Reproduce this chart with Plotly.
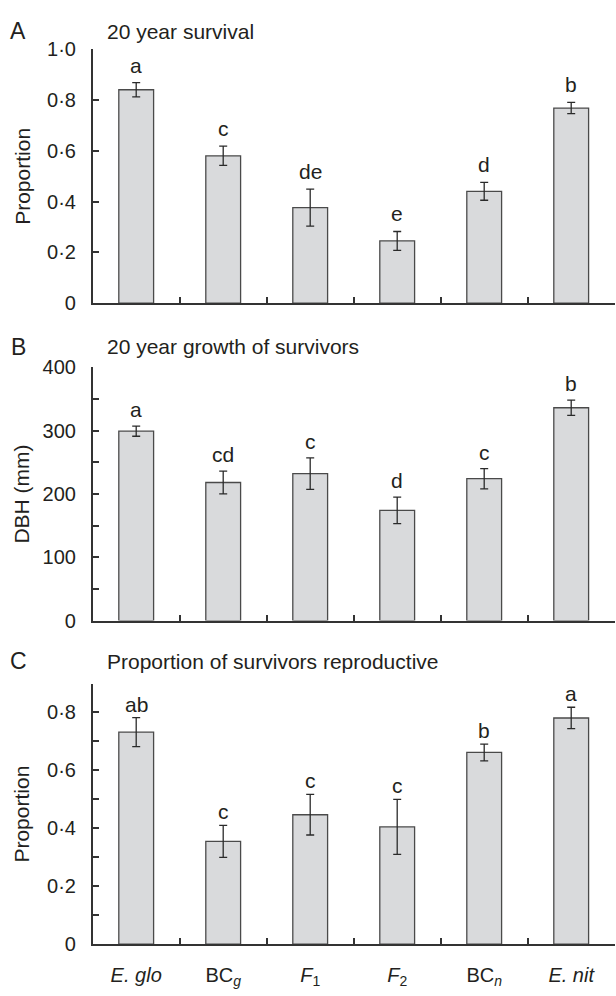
import plotly.graph_objects as go

# Hybrid classes (bar order along the x axis)
categories = [
    "<i>E. glo</i>",
    "BC<sub><i>g</i></sub>",
    "<i>F</i><sub>1</sub>",
    "<i>F</i><sub>2</sub>",
    "BC<sub><i>n</i></sub>",
    "<i>E. nit</i>",
]

# A: 20 year survival (proportion) with standard errors
survival = [0.84, 0.58, 0.376, 0.245, 0.44, 0.768]
survival_se = [0.028, 0.038, 0.073, 0.037, 0.035, 0.022]
survival_letters = ["a", "c", "de", "e", "d", "b"]

# B: 20 year growth of survivors, DBH (mm)
dbh = [299, 218, 232, 174, 224, 336]
dbh_se = [8, 18, 25, 21, 16, 12]
dbh_letters = ["a", "cd", "c", "d", "c", "b"]

# C: proportion of survivors reproductive
repro = [0.732, 0.355, 0.447, 0.405, 0.662, 0.781]
repro_se = [0.05, 0.055, 0.07, 0.095, 0.029, 0.037]
repro_letters = ["ab", "c", "c", "c", "b", "a"]

# Tick positions and labels (middle-dot decimals; blank = unlabelled tick)
prop_ticks_a = [0, 0.2, 0.4, 0.6, 0.8, 1.0]
prop_ticktext_a = ["0", "0·2", "0·4", "0·6", "0·8", "1·0"]
dbh_ticks = [0, 50, 100, 150, 200, 250, 300, 350, 400]
dbh_ticktext = ["0", " ", "100", " ", "200", " ", "300", " ", "400"]
prop_ticks_c = [0, 0.1, 0.2, 0.3, 0.4, 0.5, 0.6, 0.7, 0.8, 0.9]
prop_ticktext_c = ["0", " ", "0·2", " ", "0·4", " ", "0·6", " ", "0·8", " "]

FONT = "Liberation Sans, Arial, Helvetica, sans-serif"
TXT = "#231f20"
AXC = "#333333"
BAR_FILL = "#d9dadc"
BAR_LINE = "#4a4a4a"

W, H = 616, 996
x_dom = [92.7 / W, 614.7 / W]
# panel vertical extents in pixels (top, bottom)
panels = [
    dict(top=39.0, bottom=298.7, vals=survival, se=survival_se, letters=survival_letters,
         rng=[0, 1.0], tv=prop_ticks_a, tt=prop_ticktext_a,
         tag="A", title="20 year survival", ytitle="Proportion", lshift=4),
    dict(top=364.3, bottom=623.3, vals=dbh, se=dbh_se, letters=dbh_letters,
         rng=[0, 400], tv=dbh_ticks, tt=dbh_ticktext,
         tag="B", title="20 year growth of survivors", ytitle="DBH (mm)", lshift=3),
    dict(top=687.7, bottom=954.3, vals=repro, se=repro_se, letters=repro_letters,
         rng=[0, 0.9], tv=prop_ticks_c, tt=prop_ticktext_c,
         tag="C", title="Proportion of survivors reproductive", ytitle="Proportion", lshift=0),
]

fig = go.Figure()
annotations = []

for i, p in enumerate(panels, start=1):
    xa = "x" if i == 1 else f"x{i}"
    ya = "y" if i == 1 else f"y{i}"
    fig.add_trace(go.Bar(
        x=categories, y=p["vals"], width=0.4,
        marker=dict(color=BAR_FILL, line=dict(color=BAR_LINE, width=1.3)),
        error_y=dict(type="data", array=p["se"], visible=True,
                     color="#2a2a2a", thickness=1.3, width=4),
        xaxis=xa, yaxis=ya, showlegend=False, hoverinfo="skip",
    ))

    y0 = 1 - p["bottom"] / H
    y1 = 1 - p["top"] / H
    xkey = "xaxis" if i == 1 else f"xaxis{i}"
    ykey = "yaxis" if i == 1 else f"yaxis{i}"

    fig.update_layout(**{
        xkey: dict(
            domain=x_dom, anchor=ya, type="category",
            categoryorder="array", categoryarray=categories,
            showline=True, linecolor=AXC, linewidth=1.5,
            ticks="inside", tickson="boundaries", ticklen=6,
            tickwidth=1.5, tickcolor=AXC,
            showticklabels=(i == 3), ticklabelstandoff=12,
            tickfont=dict(family=FONT, size=20, color=TXT),
            showgrid=False, zeroline=False, fixedrange=True,
        ),
        ykey: dict(
            domain=[y0, y1], anchor=xa, range=p["rng"],
            tickmode="array", tickvals=p["tv"], ticktext=p["tt"],
            showline=True, linecolor=AXC, linewidth=1.5,
            ticks="inside", ticklen=7, tickwidth=1.5, tickcolor=AXC,
            ticklabelstandoff=11,
            tickfont=dict(family=FONT, size=20, color=TXT),
            showgrid=False, zeroline=False, fixedrange=True,
        ),
    })

    # significance letters above each error bar
    for cat, v, e, lab in zip(categories, p["vals"], p["se"], p["letters"]):
        annotations.append(dict(
            x=cat, y=v + e, xref=xa, yref=ya, text=lab, showarrow=False,
            yanchor="bottom", xanchor="center", yshift=p["lshift"],
            font=dict(family=FONT, size=21, color=TXT),
        ))

    # panel tag and heading
    head_y = {1: 20.5, 2: 343.3, 3: 665.0}[i]
    annotations.append(dict(
        x=18 / W, y=1 - head_y / H, xref="paper", yref="paper",
        text=p["tag"], showarrow=False, xanchor="center", yanchor="middle",
        font=dict(family=FONT, size=23, color=TXT),
    ))
    annotations.append(dict(
        x=105 / W, y=1 - head_y / H, xref="paper", yref="paper",
        text=p["title"], showarrow=False, xanchor="left", yanchor="middle",
        font=dict(family=FONT, size=21, color=TXT),
    ))
    # y-axis title
    annotations.append(dict(
        x=21.7 / W, y=1 - (p["top"] + p["bottom"]) / 2 / H,
        xref="paper", yref="paper", text=p["ytitle"], textangle=-90,
        showarrow=False, xanchor="center", yanchor="middle",
        font=dict(family=FONT, size=21, color=TXT),
    ))

fig.update_layout(
    width=W, height=H,
    margin=dict(l=0, r=0, t=0, b=0),
    paper_bgcolor="white", plot_bgcolor="white",
    annotations=annotations,
    bargap=0.6,
    font=dict(family=FONT, color=TXT),
)

fig.write_html("out.html", config={"displayModeBar": False})
